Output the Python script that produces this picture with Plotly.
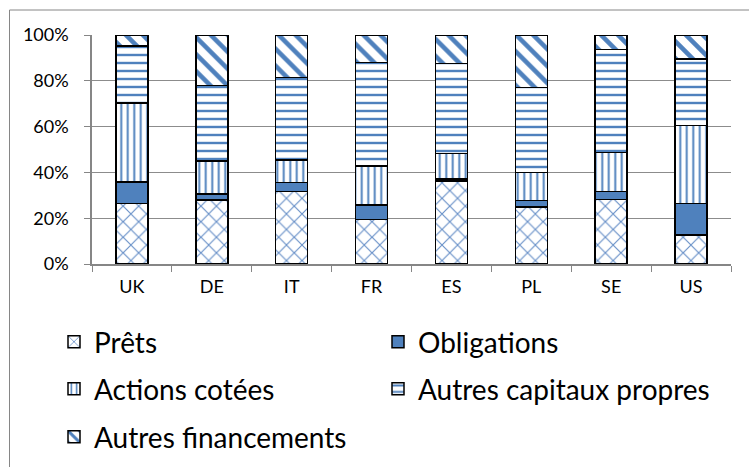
import plotly.graph_objects as go

categories = ["UK", "DE", "IT", "FR", "ES", "PL", "SE", "US"]
prets = [26.5, 27.9, 31.6, 19.5, 36.3, 24.9, 28.1, 12.7]
obligations = [9.4, 2.7, 4.1, 6.3, 0.8, 2.9, 3.5, 13.8]
actions_cotees = [34.4, 14.4, 9.7, 17.0, 11.2, 12.2, 17.0, 33.9]
autres_capitaux = [24.8, 32.9, 36.1, 45.1, 39.3, 37.0, 45.0, 29.1]
autres_financements = [4.9, 22.1, 18.5, 12.1, 12.4, 23.0, 6.4, 10.5]
y_ticks = [0, 0.2, 0.4, 0.6, 0.8, 1.0]
y_tick_labels = ["0%", "20%", "40%", "60%", "80%", "100%"]

BLUE = "#4F81BD"
FONT = "Lato"

# plot area in pixels
W, H = 749, 467
PL, PR, PT, PB = 92, 731, 35, 264

def px_x(p):
    return (p - PL) / (PR - PL)

def px_y(p):
    return (PB - p) / (PB - PT)

series = [
    ("Prêts", prets, dict(shape="x", size=11, solidity=0.2, fgcolor="#6890C8", bgcolor="white", fillmode="replace")),
    ("Obligations", obligations, None),
    ("Actions cotées", actions_cotees, dict(shape="|", size=6.5, solidity=0.3, fgcolor=BLUE, bgcolor="white", fillmode="replace")),
    ("Autres capitaux propres", autres_capitaux, dict(shape="-", size=8, solidity=0.3, fgcolor=BLUE, bgcolor="white", fillmode="replace")),
    ("Autres financements", autres_financements, dict(shape="\\", size=12, solidity=0.38, fgcolor=BLUE, bgcolor="white", fillmode="replace")),
]

legend_pos = [
    (54, 342), (378, 342),
    (54, 389), (378, 389),
    (54, 437),
]

fig = go.Figure()
for i, (name, vals, pat) in enumerate(series):
    marker = dict(line=dict(color="black", width=1.5))
    if pat is None:
        marker["color"] = BLUE
    else:
        marker["color"] = "white"
        marker["pattern"] = pat
    lg = "legend" if i == 0 else f"legend{i+1}"
    fig.add_trace(go.Bar(
        x=categories, y=vals, name=name, marker=marker, width=0.4,
        legend=lg,
    ))

layout_legends = {}
for i, (lx, ly) in enumerate(legend_pos):
    key = "legend" if i == 0 else f"legend{i+1}"
    layout_legends[key] = dict(
        x=px_x(lx), y=px_y(ly), xanchor="left", yanchor="middle",
        font=dict(family=FONT, size=28, color="black"),
        bgcolor="rgba(0,0,0,0)", borderwidth=0,
    )

fig.update_layout(
    width=W, height=H,
    margin=dict(l=PL, r=W - PR, t=PT, b=H - PB, pad=0, autoexpand=False),
    barmode="stack", barnorm="fraction",
    paper_bgcolor="white", plot_bgcolor="white",
    font=dict(family=FONT, size=18, color="black"),
    showlegend=True,
    xaxis=dict(
        showline=True, linecolor="#868686", linewidth=1.5,
        ticks="outside", tickson="boundaries", ticklen=6, tickcolor="#868686",
        tickfont=dict(family=FONT, size=18, color="black"),
        showgrid=False, ticklabelstandoff=6, automargin=False,
    ),
    yaxis=dict(
        range=[0, 1], tickvals=y_ticks, ticktext=y_tick_labels,
        showline=True, linecolor="#868686", linewidth=1.5,
        ticks="outside", ticklen=6, tickcolor="#868686",
        showgrid=True, gridcolor="#8C8C8C", gridwidth=1,
        tickfont=dict(family=FONT, size=18, color="black"),
        ticklabelstandoff=12, zeroline=False, automargin=False,
    ),
    shapes=[dict(
        type="rect", xref="paper", yref="paper",
        x0=px_x(9.5), x1=px_x(770), y0=px_y(480), y1=px_y(10),
        line=dict(color="#868686", width=1), fillcolor="rgba(0,0,0,0)", layer="below",
    )],
    **layout_legends,
)

fig.write_html(
    "out.html",
    config={"displayModeBar": False},
    post_script="document.body.style.margin='0px';document.body.style.overflow='hidden';",
)
